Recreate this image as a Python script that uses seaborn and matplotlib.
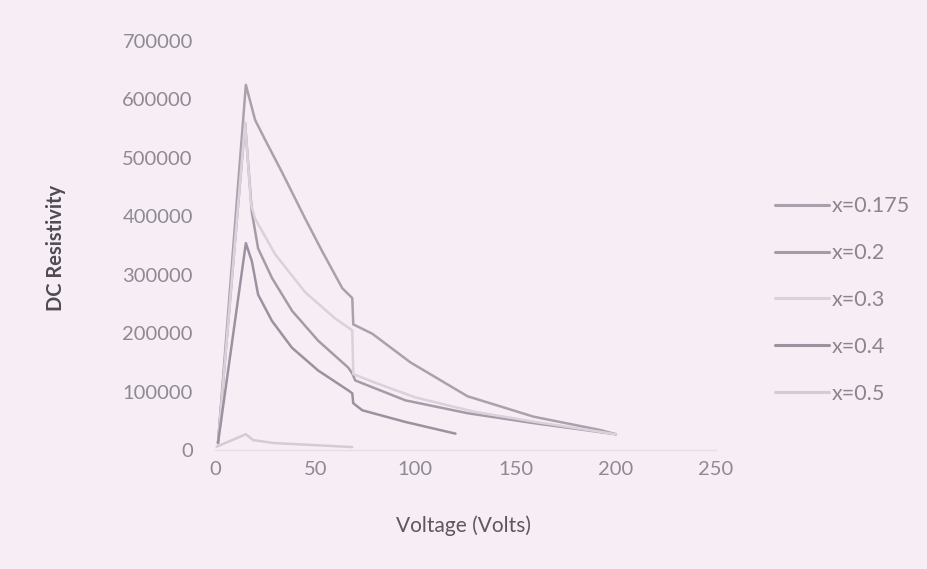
import matplotlib
matplotlib.use("Agg")
import matplotlib.pyplot as plt
import seaborn as sns
import pandas as pd

# ---- data ----
series_labels = ["x=0.175", "x=0.2", "x=0.3", "x=0.4", "x=0.5"]

v_0175 = [1.5, 15.4, 20, 25, 33.5, 45, 53.5, 63.5, 68.5, 69, 78.5, 97.5, 126, 159, 192.5, 200]
r_0175 = [12000, 625000, 565000, 531000, 475000, 396000, 340000, 277000, 260000, 215000,
          199000, 150000, 92000, 57000, 34000, 27000]

v_02 = [1.5, 15, 18.4, 21.5, 28.5, 38.5, 51.5, 66.5, 68.5, 70, 95, 126, 159, 200]
r_02 = [12000, 560000, 407000, 345000, 294000, 238000, 187000, 141000, 131000, 119000,
        85000, 63000, 46000, 27000]

v_03 = [1.5, 15, 18, 20, 30, 45, 60, 68.5, 69, 80, 100, 130, 160, 200]
r_03 = [12000, 560000, 420000, 396000, 335000, 270000, 225000, 205000, 130000, 115000,
        90000, 65000, 48000, 27000]

v_04 = [1.5, 15.4, 18.4, 21.5, 28.4, 38.4, 51.5, 66.5, 68.5, 69, 73.5, 95, 120]
r_04 = [12000, 354000, 323000, 266000, 221000, 175000, 136000, 102000, 97000, 80000,
        68000, 48000, 28000]

v_05 = [0.8, 15.4, 19, 29, 68.5]
r_05 = [5600, 27000, 17000, 12000, 5000]

x_ticks = [0, 50, 100, 150, 200, 250]
y_ticks = [0, 100000, 200000, 300000, 400000, 500000, 600000, 700000]

colors = ["#a9a1ac", "#a39ca7", "#d9d1db", "#9a939f", "#d3ccd6"]

frames = []
for lab, v, r in zip(series_labels, [v_0175, v_02, v_03, v_04, v_05],
                     [r_0175, r_02, r_03, r_04, r_05]):
    frames.append(pd.DataFrame({"Voltage": v, "Resistivity": r, "Series": lab}))
df = pd.concat(frames, ignore_index=True)

# ---- figure ----
sns.set_theme(style="white")
plt.rcParams["font.family"] = ["Lato", "DejaVu Sans"]

bg = "#f7edf5"
fig = plt.figure(figsize=(9.27, 5.69), dpi=100, facecolor=bg)
ax = fig.add_axes([215 / 927, 1 - 450 / 569, 501 / 927, 409 / 569])
ax.set_facecolor(bg)

sns.lineplot(data=df, x="Voltage", y="Resistivity", hue="Series",
             hue_order=series_labels, palette=colors, sort=False,
             estimator=None, units="Series", linewidth=1.8, ax=ax)

ax.set_xlim(0, 250)
ax.set_ylim(0, 700000)
ax.set_xticks(x_ticks)
ax.set_yticks(y_ticks)
ax.set_xticklabels([str(t) for t in x_ticks])
ax.set_yticklabels([str(t) for t in y_ticks])

tick_col = "#8e8993"
ax.tick_params(axis="y", length=0, pad=16, labelsize=14.5, labelcolor=tick_col)
ax.tick_params(axis="x", length=0, pad=8, labelsize=14.5, labelcolor=tick_col)

for s in ["top", "right", "left"]:
    ax.spines[s].set_visible(False)
ax.spines["bottom"].set_color("#e6dde6")
ax.spines["bottom"].set_linewidth(1.0)
ax.grid(False)

ax.set_xlabel("Voltage (Volts)", fontsize=15, color="#5c5760")
ax.xaxis.set_label_coords((464 - 215) / 501, -0.160)
ax.xaxis.label.set_verticalalignment("top")
ax.set_ylabel("DC Resistivity", fontsize=14.5, color="#4f4a53", fontweight="bold")
ax.yaxis.set_label_coords(-0.298, 0.494)

leg = ax.legend(loc="center left", bbox_to_anchor=(775 / 927, 1 - 300 / 569),
                bbox_transform=fig.transFigure, frameon=False, fontsize=15.5,
                handlelength=2.5, handletextpad=0.12, labelspacing=1.25,
                borderpad=0, borderaxespad=0)
for t in leg.get_texts():
    t.set_color("#8a858f")
for h in leg.get_lines():
    h.set_linewidth(2.2)

fig.savefig("out.png", dpi=100, facecolor=bg)
